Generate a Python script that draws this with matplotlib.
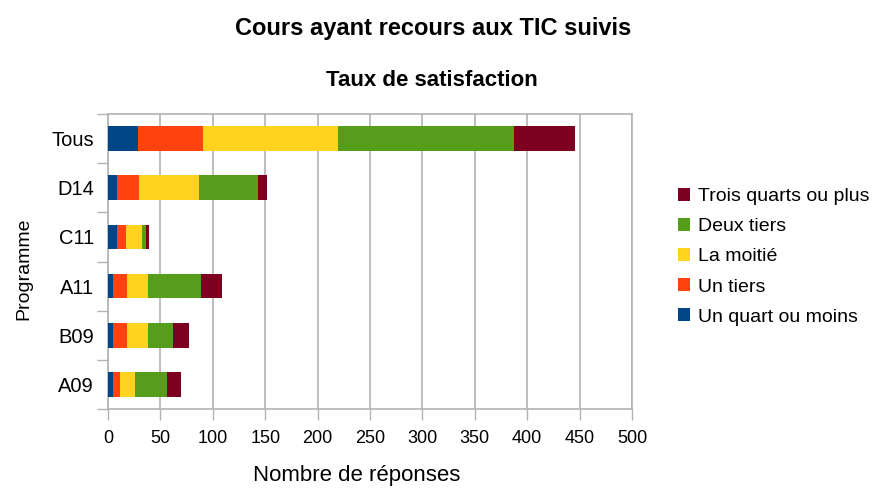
import matplotlib
matplotlib.use("Agg")
import matplotlib.pyplot as plt
from matplotlib.patches import Patch
import numpy as np

plt.rcParams['font.family'] = ['Liberation Sans', 'DejaVu Sans']

programmes = ["Tous", "D14", "C11", "A11", "B09", "A09"]
series_names = ["Un quart ou moins", "Un tiers", "La moitié", "Deux tiers", "Trois quarts ou plus"]
un_quart = [29, 9, 9, 5, 5, 5]
un_tiers = [62, 21, 8, 13, 13, 6]
moitie = [128, 57, 15, 20, 20, 15]
deux_tiers = [168, 56, 4, 51, 24, 30]
trois_quarts = [59, 9, 3, 20, 15, 14]
colors = ["#004586", "#ff420e", "#ffd320", "#579d1c", "#7e0021"]
xticks = [0, 50, 100, 150, 200, 250, 300, 350, 400, 450, 500]

W, H = 873, 490
fig = plt.figure(figsize=(W / 100, H / 100), dpi=100)
left, right, top, bottom = 108, 632, 114, 409
ax = fig.add_axes([left / W, 1 - bottom / H, (right - left) / W, (bottom - top) / H])

y = np.arange(len(programmes))
series = [un_quart, un_tiers, moitie, deux_tiers, trois_quarts]
cum = np.zeros(len(programmes))
for vals, c, name in zip(series, colors, series_names):
    ax.barh(y, vals, left=cum, height=0.5, color=c, label=name, zorder=3)
    cum += np.array(vals)

ax.set_ylim(len(programmes) - 0.5, -0.5)
ax.set_xlim(0, 500)
ax.set_xticks(xticks)
ax.set_xticklabels([str(t) for t in xticks], fontsize=13)
ax.set_yticks(y)
ax.set_yticklabels(programmes, fontsize=14.5)
ax.set_yticks(np.arange(-0.5, len(programmes), 1), minor=True)
ax.tick_params(axis='y', which='major', length=0, pad=10)
ax.tick_params(axis='y', which='minor', length=8, color='#b3b3b3', width=1)
ax.tick_params(axis='x', length=8, color='#b3b3b3', width=1, pad=7)
ax.grid(axis='x', color='#b3b3b3', linewidth=1.2, zorder=0)
for s in ax.spines.values():
    s.set_color('#b3b3b3')
    s.set_linewidth(1.2)

ax.set_xlabel("Nombre de réponses", fontsize=16)
ax.xaxis.set_label_coords((357 - left) / (right - left), -(465 - bottom) / (bottom - top))
ax.set_ylabel("Programme", fontsize=14)
ax.yaxis.set_label_coords(-(108 - 32) / (right - left), (bottom - 269) / (bottom - top))

fig.text(433 / W, 1 - 28 / H, "Cours ayant recours aux TIC suivis", ha='center', va='center',
         fontsize=17, fontweight='bold')
fig.text(432 / W, 1 - 81 / H, "Taux de satisfaction", ha='center', va='center',
         fontsize=16, fontweight='bold')

handles = [Patch(facecolor=c, label=n) for c, n in zip(colors, series_names)][::-1]
fig.legend(handles=handles, loc='upper left', bbox_to_anchor=(670 / W, 1 - 180 / H),
           frameon=False, fontsize=14, handlelength=0.65, handleheight=0.65,
           handletextpad=0.4, labelspacing=0.66, borderaxespad=0)

fig.savefig("out.png", dpi=100)
